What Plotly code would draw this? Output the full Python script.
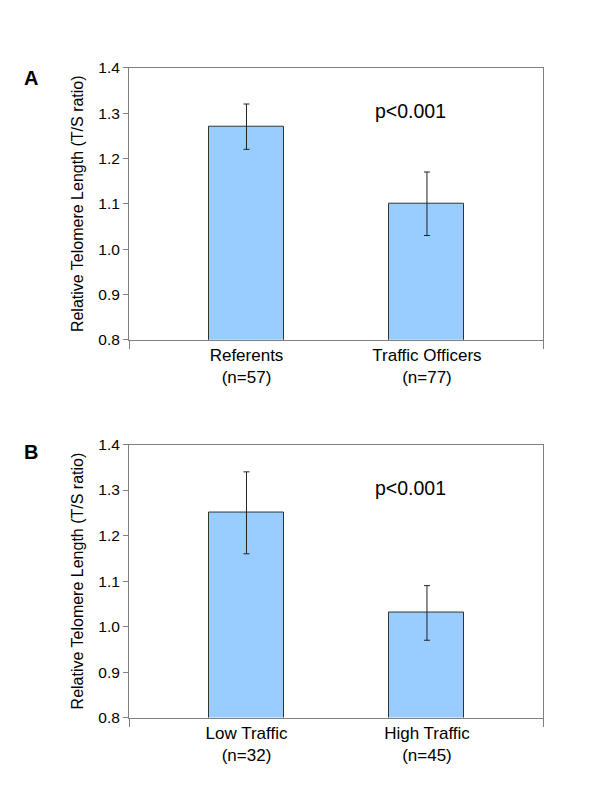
import plotly.graph_objects as go

# Data
cats_a = ["Referents<br>(n=57)", "Traffic Officers<br>(n=77)"]
vals_a = [1.27, 1.10]
err_a_plus = [0.05, 0.07]
err_a_minus = [0.05, 0.07]

cats_b = ["Low Traffic<br>(n=32)", "High Traffic<br>(n=45)"]
vals_b = [1.25, 1.03]
err_b_plus = [0.09, 0.06]
err_b_minus = [0.09, 0.06]

ytick_vals = [0.8, 0.9, 1.0, 1.1, 1.2, 1.3, 1.4]
ytitle = "Relative Telomere Length (T/S ratio)"
ptext = "p<0.001"
panel_labels = ["A", "B"]

FONT = "Liberation Sans, Arial, sans-serif"
BAR_COLOR = "#99CCFF"
BAR_LINE = "#333333"
AXIS_COLOR = "#808080"

pos = [0, 1]
x_range = [-0.651, 1.643]
bar_width = 0.4155

fig = go.Figure()

for i, (cats, vals, ep, em) in enumerate([
    (cats_a, vals_a, err_a_plus, err_a_minus),
    (cats_b, vals_b, err_b_plus, err_b_minus),
]):
    xa = "x" if i == 0 else "x2"
    ya = "y" if i == 0 else "y2"
    fig.add_trace(go.Bar(
        x=pos, y=vals, base=0, width=bar_width,
        marker=dict(color=BAR_COLOR, line=dict(color=BAR_LINE, width=1)),
        error_y=dict(type="data", symmetric=False, array=ep, arrayminus=em,
                     color="#222222", thickness=1, width=3),
        xaxis=xa, yaxis=ya, showlegend=False, hoverinfo="skip",
    ))

def xaxis_cfg(domain_anchor, ticktext):
    return dict(
        domain=[129/600, 543/600], anchor=domain_anchor,
        range=x_range, tickmode="array", tickvals=pos, ticktext=ticktext,
        showline=True, linecolor=AXIS_COLOR, linewidth=1, mirror=True,
        ticks="", showgrid=False, zeroline=False,
        tickfont=dict(family=FONT, size=17, color="#000000"),
        minor=dict(tickmode="array", tickvals=x_range, ticks="outside",
                   ticklen=8, tickcolor=AXIS_COLOR, tickwidth=1, showgrid=False),
    )

def yaxis_cfg(domain, anchor):
    return dict(
        domain=domain, anchor=anchor, range=[0.8, 1.4],
        tickmode="array", tickvals=ytick_vals,
        ticktext=[f"{v:.1f}" for v in ytick_vals],
        showline=True, linecolor=AXIS_COLOR, linewidth=1, mirror=True,
        ticks="outside", ticklen=5, tickcolor=AXIS_COLOR, tickwidth=1,
        showgrid=False, zeroline=False,
        tickfont=dict(family=FONT, size=15.5, color="#000000"),
        title=dict(text=ytitle, font=dict(family=FONT, size=16, color="#000000"),
                   standoff=10),
    )

fig.update_layout(
    width=600, height=800,
    margin=dict(l=0, r=0, t=0, b=0),
    paper_bgcolor="white", plot_bgcolor="white",
    xaxis=xaxis_cfg("y", cats_a),
    yaxis=yaxis_cfg([1 - 338/800, 1 - 60/800], "x"),
    xaxis2=xaxis_cfg("y2", cats_b),
    yaxis2=yaxis_cfg([1 - 724/800, 1 - 445/800], "x2"),
    bargap=0,
)

# p-value annotations
for xr, yr in [("x domain", "y"), ("x2 domain", "y2")]:
    fig.add_annotation(x=0.681, y=1.305, xref=xr, yref=yr, text=ptext,
                       showarrow=False, xanchor="center", yanchor="middle",
                       font=dict(family=FONT, size=19.5, color="#000000"))

# Panel letters
for lab, ypx in zip(panel_labels, [70, 453]):
    fig.add_annotation(x=30.5/600, y=1 - ypx/800, xref="paper", yref="paper",
                       text=f"<b>{lab}</b>", showarrow=False,
                       xanchor="center", yanchor="middle",
                       font=dict(family=FONT, size=20, color="#000000"))

fig.write_html("out.html", config={"displayModeBar": False},
               post_script="document.body.style.margin='0';")
